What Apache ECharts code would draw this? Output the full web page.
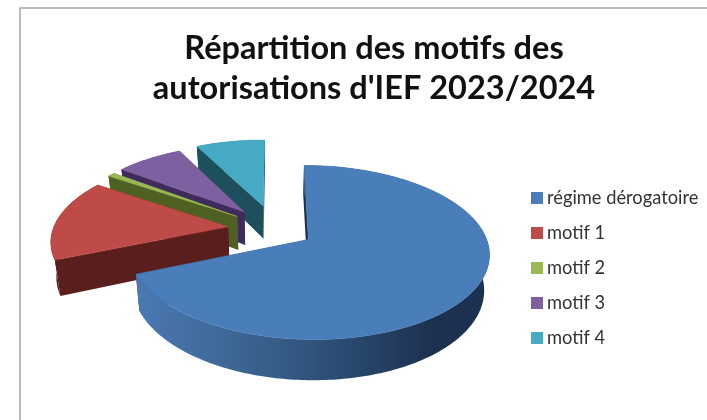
<!DOCTYPE html>
<html><head><meta charset="utf-8">
<style>html,body{margin:0;padding:0;background:#fff}#c{width:707px;height:420px}</style>
<script src="https://cdn.jsdelivr.net/npm/echarts@6/dist/echarts.min.js"></script></head>
<body><div id="c"></div>
<script>
var categories = ['régime dérogatoire', 'motif 1', 'motif 2', 'motif 3', 'motif 4'];
var shares = [68.7, 15.7, 0.8, 7.3, 7.5];
var topColors = ['#4a7ebb', '#be4b48', '#98b954', '#7d60a0', '#46aac5'];
var sideColors = ['#1c3150', '#5a1f1d', '#4f6122', '#3e2b5c', '#1d4f5c'];
var explode = [0.225, 0.27, 0.27, 0.28, 0.30];
var view = {cx: 275, cy: 229, rx: 175, ry: 82, k: 0.147, depth: 34, shrink: 0.975, startDeg: 0};

var total = shares.reduce(function (a, b) { return a + b; }, 0);
function startOf(i) {
  var s = 0;
  for (var j = 0; j < i; j++) s += shares[j];
  return view.startDeg + s / total * 360;
}
function top3d(u, v) {
  var w = 1 - view.k * v;
  return [view.cx + view.rx * u / w, view.cy + view.ry * v / w];
}
function bottom3d(u, v) {
  var w = 1 - view.k * v, p = top3d(u, v);
  return [view.cx + (p[0] - view.cx) * view.shrink, p[1] + view.depth / w];
}
function sideFill(i) {
  if (i !== 0) return sideColors[i];
  return {type: 'linear', x: 135, y: 0, x2: 485, y2: 0, global: true, colorStops: [
    {offset: 0, color: '#4b79b3'}, {offset: 0.3, color: '#3c6593'},
    {offset: 0.6, color: '#2a4a70'}, {offset: 0.85, color: '#1c3150'}, {offset: 1, color: '#1c3150'}]};
}
function renderSlice(params, api) {
  var i = params.seriesIndex;
  var a0 = startOf(i), span = api.value(0) / total * 360, a1 = a0 + span;
  var mid = (a0 + a1) / 2 * Math.PI / 180;
  var ox = Math.sin(mid) * explode[i], oy = -Math.cos(mid) * explode[i];
  var rimT = [], rimB = [], n = Math.max(4, Math.ceil(span));
  for (var s = 0; s <= n; s++) {
    var a = (a0 + span * s / n) * Math.PI / 180;
    var u = ox + Math.sin(a), v = oy - Math.cos(a);
    rimT.push(top3d(u, v));
    rimB.push(bottom3d(u, v));
  }
  var apT = top3d(ox, oy), apB = bottom3d(ox, oy);
  function poly(points, fill) {
    return {type: 'polygon', shape: {points: points}, style: {fill: fill, stroke: fill === topColors[i] ? fill : null, lineWidth: 0.5}};
  }
  return {type: 'group', children: [
    poly([rimT[0], rimB[0], apB, apT], sideColors[i]),
    poly([rimT[n], rimB[n], apB, apT], sideColors[i]),
    poly(rimT.concat(rimB.slice().reverse()), sideFill(i)),
    poly([apT].concat(rimT), topColors[i])
  ]};
}
var chart = echarts.init(document.getElementById('c'), null, {renderer: 'canvas'});
chart.setOption({
  animation: false,
  backgroundColor: '#fff',
  title: {
    text: "Répartition des motifs des\nautorisations d'IEF 2023/2024",
    left: 369, top: 24, textAlign: 'center',
    textStyle: {fontFamily: 'Lato', fontWeight: 'bold', fontSize: 32.5, lineHeight: 40, color: '#111'}
  },
  legend: {
    orient: 'vertical', left: 526, top: 184, padding: 5, icon: 'rect', itemWidth: 12, itemHeight: 12, itemGap: 17, selectedMode: false,
    data: categories,
    textStyle: {fontFamily: 'Lato', fontSize: 18.3, lineHeight: 18, color: '#333', padding: [0, 0, 0, -1]}
  },
  graphic: [{type: 'polyline', shape: {points: [[20, 420], [20, 8], [707, 8]]}, style: {stroke: '#a6a6a6', lineWidth: 1.5, fill: null}, silent: true}],
  series: categories.map(function (name, i) {
    return {type: 'custom', name: name, coordinateSystem: 'none', z: 10 - i, renderItem: renderSlice,
      itemStyle: {color: topColors[i]}, data: [[shares[i]]], silent: true};
  })
});
</script></body></html>
